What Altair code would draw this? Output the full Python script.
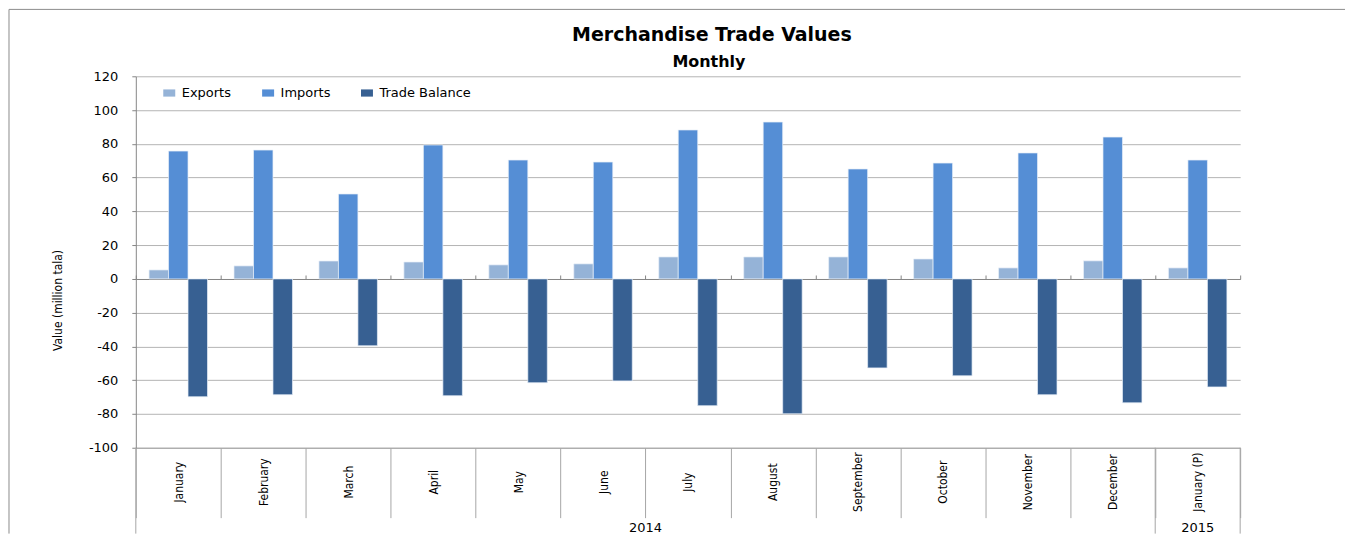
import altair as alt
import pandas as pd

months = ["January", "February", "March", "April", "May", "June", "July",
          "August", "September", "October", "November", "December", "January (P)"]
series = ["Exports", "Imports", "Trade Balance"]
exports = [5.3, 7.7, 10.6, 10.0, 8.3, 8.9, 13.0, 13.0, 13.0, 11.8, 6.5, 10.7, 6.5]
imports = [75.7, 76.3, 50.3, 79.3, 70.4, 69.2, 88.2, 92.9, 65.1, 68.6, 74.6, 84.0, 70.4]
balance = [-69.8, -68.6, -39.6, -69.2, -61.5, -60.4, -75.1, -79.9, -52.7, -57.4, -68.6, -73.4, -64.0]
year_labels = ["2014", "2015"]
year_anchor_months = ["July", "January (P)"]
title_text = "Merchandise Trade Values"
subtitle_text = "Monthly"
colors = ["#95B3D7", "#558ED5", "#376092"]

W, H = 1106, 372

rows = []
for i, m in enumerate(months):
    rows.append({"month": m, "series": "Exports", "value": exports[i]})
    rows.append({"month": m, "series": "Imports", "value": imports[i]})
    rows.append({"month": m, "series": "Trade Balance", "value": balance[i]})
df = pd.DataFrame(rows)

xscale = alt.Scale(domain=months, paddingInner=0, paddingOuter=0)
NARROW = "DejaVu Sans Condensed, Liberation Sans Narrow, Liberation Sans, sans-serif"
WIDE = "DejaVu Sans, Verdana, sans-serif"
minus_fix = "datum.value < 0 ? '-' + abs(datum.value) : '' + datum.value"

bars = alt.Chart(df).mark_bar(stroke="#e8eff8", strokeWidth=0.7).encode(
    x=alt.X("month:N", sort=months, scale=xscale,
            axis=alt.Axis(orient="bottom", title=None, labelAngle=270,
                          labelAlign="center", labelBaseline="middle",
                          labelPadding=-36, tickBand="extent", tickSize=70,
                          tickColor="#a6a6a6", domainColor="#a6a6a6",
                          labelFont=NARROW, labelFontSize=12, labelColor="#000",
                          grid=False)),
    xOffset=alt.XOffset("series:N", sort=series,
                        scale=alt.Scale(domain=series, paddingInner=0, paddingOuter=0.68)),
    y=alt.Y("value:Q", scale=alt.Scale(domain=[-100, 120], nice=False),
            axis=alt.Axis(values=list(range(-100, 121, 20)), grid=True,
                          gridColor="#b4b4b4", domainColor="#868686",
                          tickColor="#868686", tickSize=4, labelPadding=14,
                          labelExpr=minus_fix,
                          labelFont=WIDE, labelFontSize=13, labelColor="#000",
                          title="Value (million tala)", titleFont=NARROW,
                          titleFontSize=12, titleFontWeight="normal",
                          titleAngle=270, titleX=-78, titleY=224,
                          titleAlign="center", titleBaseline="middle",
                          titleColor="#000")),
    color=alt.Color("series:N", sort=series,
                    scale=alt.Scale(domain=series, range=colors),
                    legend=alt.Legend(orient="none", legendX=27, legendY=10,
                                      direction="horizontal", title=None,
                                      symbolType="M-1,-0.6H1V0.6H-1Z",
                                      symbolSize=144, symbolStrokeWidth=0,
                                      labelFont=WIDE, labelFontSize=13,
                                      labelColor="#000", labelOffset=6,
                                      columnPadding=30)),
)

edge_left = alt.Chart(pd.DataFrame({"month": ["January", "January (P)"]})).mark_rule(
    color="#a6a6a6", strokeWidth=1).encode(
    x=alt.X("month:N", sort=months, scale=xscale, bandPosition=0,
            axis=alt.Axis(orient="top", offset=-203, labels=False, title=None,
                          domain=True, domainColor="#868686", ticks=True,
                          tickBand="extent", tickSize=4, tickColor="#868686",
                          grid=False)),
    y=alt.value(H), y2=alt.value(H + 86),
)

edge_right = alt.Chart(pd.DataFrame({"month": ["January (P)"]})).mark_rule(
    color="#a6a6a6", strokeWidth=1).encode(
    x=alt.X("month:N", sort=months, scale=xscale, bandPosition=1, axis=None),
    y=alt.value(H), y2=alt.value(H + 86),
)

years14 = alt.Chart(pd.DataFrame({"month": [year_anchor_months[0]], "year": [year_labels[0]]})).mark_text(
    font=WIDE, fontSize=13, color="#000", baseline="middle", align="center").encode(
    x=alt.X("month:N", sort=months, scale=xscale, bandPosition=0, axis=None),
    y=alt.value(H + 80),
    text="year:N",
)
years15 = alt.Chart(pd.DataFrame({"month": [year_anchor_months[1]], "year": [year_labels[1]]})).mark_text(
    font=WIDE, fontSize=13, color="#000", baseline="middle", align="center").encode(
    x=alt.X("month:N", sort=months, scale=xscale, bandPosition=0.5, axis=None),
    y=alt.value(H + 80),
    text="year:N",
)

title_mark = alt.Chart(pd.DataFrame({"t": [title_text]})).mark_text(
    font=WIDE, fontSize=19, fontWeight="bold", color="#000",
    align="center", baseline="middle").encode(
    x=alt.value(W / 2 + 24), y=alt.value(-41), text="t:N")
subtitle_mark = alt.Chart(pd.DataFrame({"t": [subtitle_text]})).mark_text(
    font=WIDE, fontSize=16, fontWeight="bold", color="#000",
    align="center", baseline="middle").encode(
    x=alt.value(W / 2 + 21), y=alt.value(-14), text="t:N")

border_left = alt.Chart(pd.DataFrame({"k": [0]})).mark_rule(color="#8c8c8c", strokeWidth=1).encode(
    x=alt.value(-127), y=alt.value(-67), y2=alt.value(H + 86))
border_top = alt.Chart(pd.DataFrame({"k": [0]})).mark_rule(color="#8c8c8c", strokeWidth=1).encode(
    x=alt.value(-127), x2=alt.value(1211), y=alt.value(-67))

chart = alt.layer(bars, edge_left, edge_right, years14, years15, title_mark, subtitle_mark,
                  border_left, border_top).resolve_axis(
    x="independent"
).properties(
    width=W, height=H, padding=0,
).configure_view(stroke=None)

chart.save("out.html", embed_options={"renderer": "svg", "actions": False})
